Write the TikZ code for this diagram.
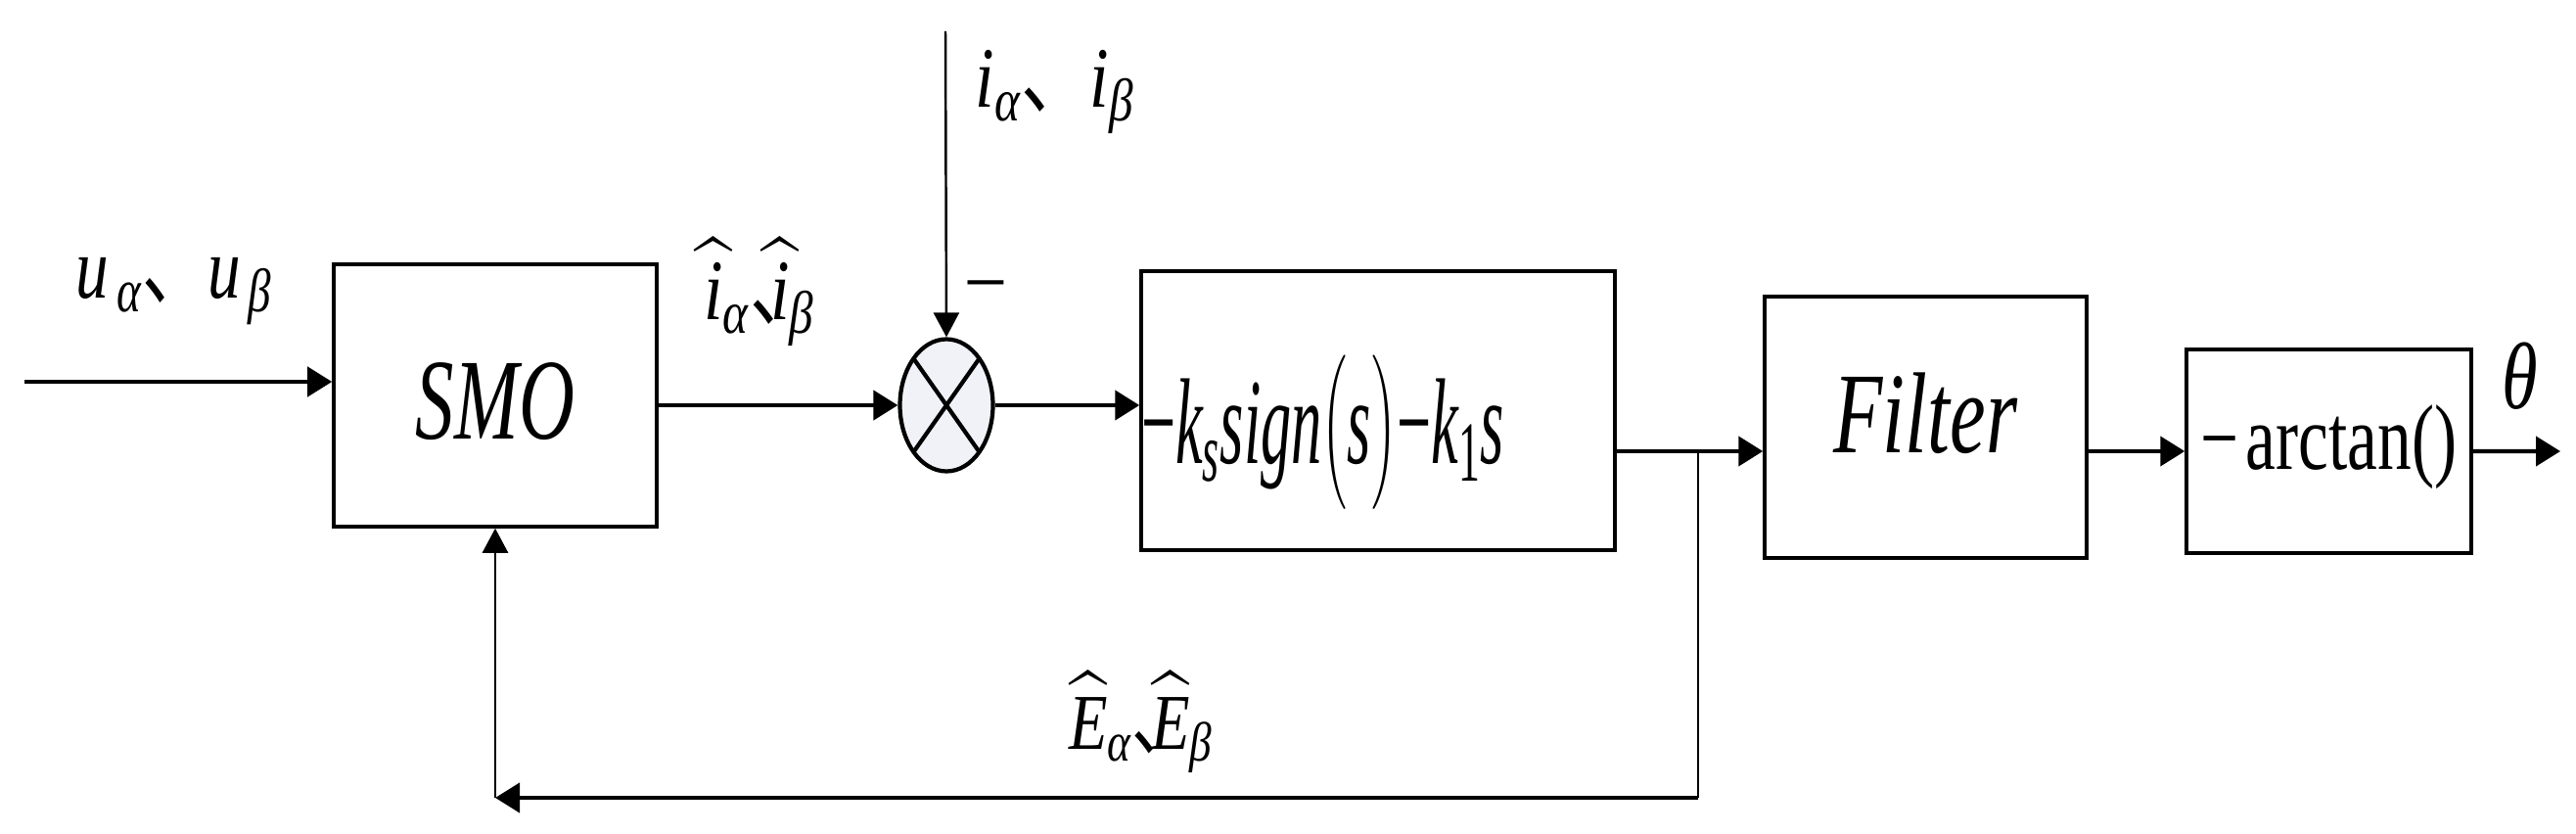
\RequirePackage{fix-cm}
\documentclass[tikz,border=0pt]{standalone}
\usepackage{amsmath}
\usepackage{fontspec}
\setmainfont{Liberation Serif}
\newfontfamily\cjk{Noto Sans CJK SC}
\usepackage{graphicx}
\usepackage{tikz}
\usetikzlibrary{shapes.geometric,arrows.meta}

\newcommand{\vi}[1]{\textit{#1}}
\newcommand{\dun}{\text{\makebox[0.3em][l]{\cjk 、}}}
\newcommand{\nar}[2]{\scalebox{#1}[1]{#2}}
\newcommand{\fs}[1]{\fontsize{#1}{#1}\selectfont}
\definecolor{sumfill}{RGB}{240,242,248}

\begin{document}
\begin{tikzpicture}[
    node distance=4.6cm,
    block/.style={draw, rectangle, line width=1pt, inner sep=0pt, text height=0pt, text depth=0pt},
    arrow/.style={-{Triangle[length=0.25cm, width=0.3cm]}, line width=1.2pt},
    thinarrow/.style={-{Triangle[length=0.25cm, width=0.26cm]}, line width=0.7pt},
    lbl/.style={inner sep=0pt}
    ]

    \useasboundingbox (0,0) rectangle (26.32,8.51);

    \node (smo) [block, minimum width=3.3cm, minimum height=2.68cm] at (5.06,4.47) {\fs{33.5}\raisebox{-0.44cm}{\nar{0.67}{\vi{SMO}}}};

    \node (sum) [right of=smo, node distance=4.61cm, yshift=-0.1cm, draw, ellipse, line width=1.2pt, fill=sumfill, minimum width=0.95cm, minimum height=1.35cm, inner sep=0pt,
        path picture={\draw[line width=1.2pt] (path picture bounding box.north west) -- (path picture bounding box.south east)
            (path picture bounding box.north east) -- (path picture bounding box.south west);}] {};

    \node (ks) [right of=sum, node distance=4.41cm, yshift=-0.055cm, block, minimum width=4.84cm, minimum height=2.85cm, text width=4.84cm, align=left] {\fs{35.5}\raisebox{-0.535cm}{\nar{0.5}{$\text{−}\vi{k}_{\vi{s}}\vi{sign}\bigl(\vi{s}\bigr)\text{−}\vi{k}_{\text{1}}\vi{s}$}}};

    \node (filter) [right of=ks, node distance=5.595cm, yshift=-0.17cm, block, minimum width=3.29cm, minimum height=2.67cm] {\fs{33.5}\raisebox{-0.265cm}{\nar{0.7}{\vi{Filter}}}};

    \node (arctan) [right of=filter, node distance=4.12cm, yshift=-0.245cm, block, minimum width=2.91cm, minimum height=2.08cm] {\fs{27}\raisebox{-0.19cm}{\nar{0.73}{−\hspace{0.1em}arctan()}}};

    % labels
    \node (ulbl) [lbl, anchor=base west] at (0.77,5.46) {\fs{25.5}\nar{0.75}{$\vi{u}_{\,\vi{α}}$\dun\hspace{0.7em}$\vi{u}_{\,\vi{β}}$}};
    \node (ihat) [lbl, anchor=base] at (7.76,5.24) {\fs{25}\nar{0.8}{$\widehat{\vi{i}}_{\vi{α}}\dun\widehat{\vi{i}}_{\vi{β}}$}};
    \node (ilbl) [lbl, anchor=base west] at (9.96,7.41) {\fs{25}\nar{0.8}{$\vi{i}_{\vi{α}}$\dun\hspace{0.7em}$\vi{i}_{\vi{β}}$}};
    \node (minus) [lbl] at (10.07,5.53) {\fs{24}\nar{0.85}{–}};
    \node (elbl) [lbl, anchor=base] at (11.66,0.86) {\fs{23}\nar{0.8}{$\widehat{\vi{E}}_{\vi{α}}\dun\widehat{\vi{E}}_{\vi{β}}$}};
    \node (theta) [lbl, anchor=base] at (25.75,4.34) {\fs{27.5}\nar{0.77}{\vi{θ}}};

    \coordinate (in) at (0.25,4.61);
    \coordinate (itop) at (9.66,8.19);
    \coordinate (out) at (26.16,3.9);
    \coordinate (junc) at (17.35,3.9);
    \coordinate (fbright) at (17.35,0.36);
    \coordinate (fbleft) at (5.06,0.36);

    \draw[arrow] (in) -- (smo.west |- in);
    \draw[arrow] (smo.east |- sum) -- (sum);
    \draw[thinarrow] (itop) -- (sum.north);
    \draw[arrow] (sum) -- (ks.west |- sum);
    \draw[arrow] (ks.east |- arctan) -- (filter.west |- arctan);
    \draw[arrow] (filter.east |- arctan) -- (arctan);
    \draw[arrow] (arctan) -- (out);
    \draw[line width=0.7pt] (junc) -- (fbright);
    \draw[arrow] (fbright) -- (fbleft);
    \draw[thinarrow] (fbleft) -- (smo.south);

\end{tikzpicture}
\end{document}
